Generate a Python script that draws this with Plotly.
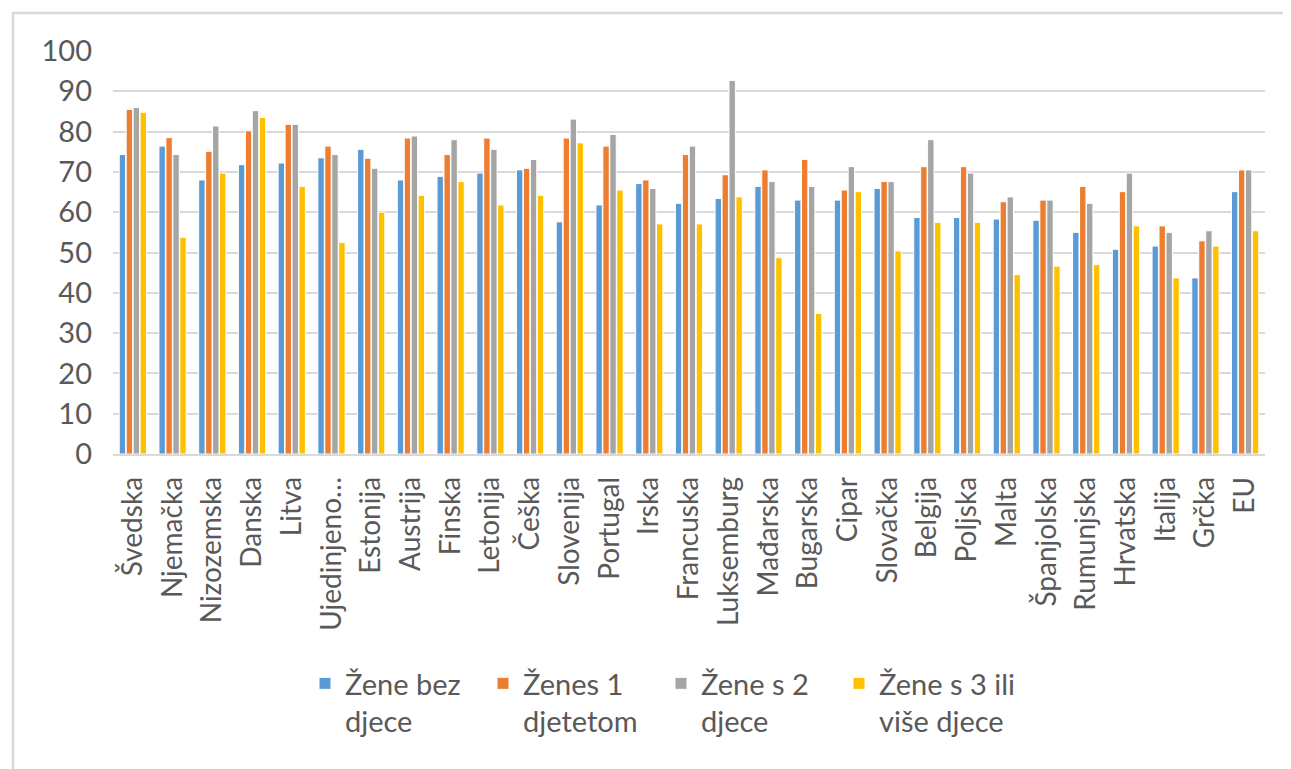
import plotly.graph_objects as go

countries = ["Švedska", "Njemačka", "Nizozemska", "Danska", "Litva", "Ujedinjeno…", "Estonija",
             "Austrija", "Finska", "Letonija", "Češka", "Slovenija", "Portugal", "Irska",
             "Francuska", "Luksemburg", "Mađarska", "Bugarska", "Cipar", "Slovačka", "Belgija",
             "Poljska", "Malta", "Španjolska", "Rumunjska", "Hrvatska", "Italija", "Grčka", "EU"]

bez_djece = [74.3, 76.4, 68.0, 71.8, 72.2, 73.5, 75.6, 68.0, 68.9, 69.7, 70.5, 57.6, 61.8, 67.1,
             62.2, 63.4, 66.4, 63.0, 63.0, 65.9, 58.7, 58.7, 58.3, 58.0, 55.0, 50.8, 51.6, 43.7, 65.1]
jedno_dijete = [85.5, 78.5, 75.1, 80.2, 81.8, 76.4, 73.4, 78.4, 74.3, 78.4, 70.9, 78.4, 76.4, 68.0,
                74.3, 69.3, 70.5, 73.1, 65.5, 67.6, 71.3, 71.3, 62.6, 63.0, 66.4, 65.1, 56.6, 52.9, 70.5]
dvoje_djece = [86.0, 74.3, 81.4, 85.2, 81.8, 74.3, 70.9, 78.9, 78.0, 75.6, 73.1, 83.1, 79.3, 65.9,
               76.4, 92.7, 67.6, 66.4, 71.3, 67.6, 78.0, 69.7, 63.8, 63.0, 62.2, 69.7, 55.0, 55.4, 70.5]
troje_vise = [84.8, 53.8, 69.7, 83.5, 66.4, 52.5, 60.0, 64.2, 67.6, 61.8, 64.2, 77.2, 65.5, 57.1,
              57.1, 63.8, 48.7, 34.9, 65.1, 50.4, 57.5, 57.5, 44.5, 46.6, 47.0, 56.6, 43.7, 51.6, 55.4]

series_names = ["Žene bez<br>djece", "Ženes 1<br>djetetom", "Žene s 2<br>djece", "Žene s 3 ili<br>više djece"]
series_values = [bez_djece, jedno_dijete, dvoje_djece, troje_vise]
colors = ["#5b9bd5", "#ed7d31", "#a5a5a5", "#ffc000"]

FONT = "Lato, Open Sans, sans-serif"
TXT = "#595959"

fig = go.Figure()
for name, vals, c in zip(series_names, series_values, colors):
    fig.add_trace(go.Bar(x=countries, y=vals, name=name,
                         marker=dict(color=c, line=dict(color="white", width=1))))

# page body adds an 8px offset; figure coordinates below are screen - 8
W, H = 1283, 761
L, R, T, B = 105, 26, 43, 315
pw = W - L - R
ph = H - T - B
y_bottom = T + ph  # pixel y of the x axis in figure coordinates

def px_x(x):
    return (x - L) / pw

def px_y(y):
    return (y_bottom - y) / ph

fig.update_layout(
    width=W, height=H,
    margin=dict(l=L, r=R, t=T, b=B, autoexpand=False),
    paper_bgcolor="white", plot_bgcolor="white",
    barmode="group", bargap=0.3, bargroupgap=0.08,
    font=dict(family=FONT, color=TXT, size=29),
    showlegend=True,
    legend=dict(orientation="h", x=px_x(297), xanchor="left", y=px_y(650), yanchor="top",
                font=dict(size=29, color=TXT, family=FONT), entrywidth=133, entrywidthmode="pixels",
                traceorder="normal", valign="top"),
    xaxis=dict(tickangle=-90, tickfont=dict(size=28, color=TXT, family=FONT), showgrid=False,
               showline=True, linecolor="#d9d9d9", linewidth=1.5, ticks="", ticklabelstandoff=10),
    yaxis=dict(range=[0, 100], dtick=10, tickfont=dict(size=29, color=TXT, family=FONT),
               showgrid=True, gridcolor="#d9d9d9", gridwidth=1.5, zeroline=False, ticks="",
               ticklabelstandoff=20),
    shapes=[dict(type="rect", xref="paper", yref="paper",
                 x0=px_x(5), x1=px_x(1300), y0=px_y(800), y1=px_y(5),
                 line=dict(color="#d9d9d9", width=2.5), fillcolor="rgba(0,0,0,0)", layer="below")],
)

fig.write_html("out.html")
